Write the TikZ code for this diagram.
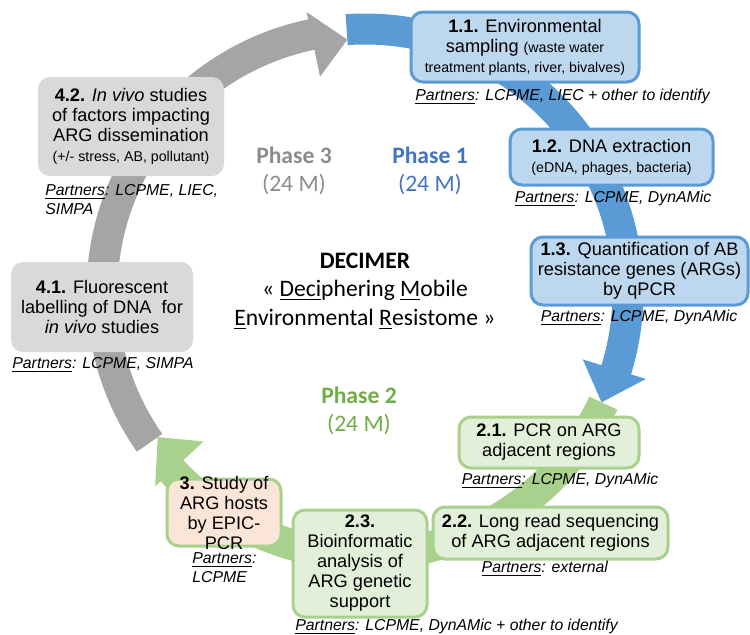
\documentclass[tikz,border=0pt]{standalone}
\usepackage{fontspec}
\setmainfont{Liberation Sans}
\newfontfamily\calibri{Carlito}
\usepackage{xcolor}
\definecolor{RingBlue}{HTML}{5B9BD5}
\definecolor{RingGray}{HTML}{A5A5A5}
\definecolor{RingGreen}{HTML}{A9D18E}
\definecolor{BlueFill}{HTML}{BDD7EE}
\definecolor{GrayFill}{HTML}{D9D9D9}
\definecolor{GreenFill}{HTML}{E2F0D9}
\definecolor{PeachFill}{HTML}{FBE5D6}
\definecolor{PhaseBlue}{HTML}{4472C4}
\definecolor{PhaseGray}{HTML}{8C8C8C}
\definecolor{PhaseGreen}{HTML}{70AD47}
\newcommand{\boxfont}{\fontsize{9.1}{10}\selectfont}
\newcommand{\subfont}{\fontsize{7.1}{8.5}\selectfont}
\newcommand{\partners}[1]{\textit{\underline{Partners}: #1}}
\tikzset{
  % Box styles
  taskbox/.style={rectangle, rounded corners=6pt, line width=1.5pt, font=\boxfont, align=center, inner sep=1pt},
  bluebox/.style={taskbox, draw=RingBlue, fill=BlueFill},
  greenbox/.style={taskbox, draw=RingGreen, fill=GreenFill},
  peachbox/.style={taskbox, draw=RingGreen, fill=PeachFill},
  graybox/.style={taskbox, draw=none, fill=GrayFill},
  % Label styles
  partnerlabel/.style={font=\fontsize{7.9}{9.5}\selectfont, inner sep=0pt, align=center},
  phaselabel/.style={font=\calibri\fontsize{11.8}{14}\selectfont, align=center, inner sep=0pt},
  titlelabel/.style={font=\calibri\fontsize{11.8}{14.3}\selectfont, align=center, inner sep=0pt}
}
\begin{document}
\begin{tikzpicture}[x=0.5pt, y=0.5pt]
  \useasboundingbox (0,0) rectangle (750,-634);

  % Ring of the three phases
  \begin{scope}[shift={(365,-292)}]
    \foreach \s/\e/\o/\col in {215/94/5/RingGray, 94/-25/1/RingBlue, -25/-145/5/RingGreen}{
      \pgfmathsetmacro\b{\e+7.8}
      \fill[\col] (\s:139.25pt) arc[start angle=\s, end angle=\b, radius=139.25pt]
        -- (\b:148pt-\o pt) -- (\e:131.5pt-\o pt) -- (\b:115pt-\o pt) -- (\b:123.75pt)
        arc[start angle=\b, end angle=\s, radius=123.75pt] -- cycle;
    }
  \end{scope}

  % Phase 1
  \node[bluebox, minimum width=114pt, minimum height=35pt] (s11) at (525,-47)
    {\textbf{1.1.} Environmental\\ sampling {\subfont (waste water}\\ {\subfont treatment plants, river, bivalves)}};
  \node[bluebox, minimum width=101.5pt, minimum height=28pt] (s12) at (611.5,-157)
    {\textbf{1.2.} DNA extraction\\ {\subfont (eDNA, phages, bacteria)}};
  \node[bluebox, minimum width=108.5pt, minimum height=34pt] (s13) at (639.5,-271)
    {\textbf{1.3.} Quantification of AB\\ resistance genes (ARGs)\\ by qPCR};

  % Phase 2
  \node[greenbox, minimum width=90pt, minimum height=25.5pt] (s21) at (549,-442.5)
    {\textbf{2.1.} PCR on ARG\\ adjacent regions};
  \node[greenbox, minimum width=117.5pt, minimum height=26pt] (s22) at (550.5,-533)
    {\textbf{2.2.} Long read sequencing\\ of ARG adjacent regions};
  \node[greenbox, minimum width=67pt, minimum height=53.5pt] (s23) at (360,-563.5)
    {\textbf{2.3.}\\ Bioinformatic\\ analysis of\\ ARG genetic\\ support};
  \node[peachbox, minimum width=57pt, minimum height=33.5pt, inner ysep=-3pt] (s3) at (224,-512.5)
    {\textbf{3.} Study of\\ ARG hosts\\ by EPIC-\\ PCR};

  % Phase 3
  \node[graybox, minimum width=91pt, minimum height=45pt] (s41) at (102,-307)
    {\textbf{4.1.} Fluorescent\\ labelling of DNA~ for\\ \textit{in vivo} studies};
  \node[graybox, minimum width=93pt, minimum height=49.5pt] (s42) at (131,-126.5)
    {\textbf{4.2.} \textit{In vivo} studies\\ of factors impacting\\ ARG dissemination\\ {\subfont (+/- stress, AB, pollutant)}};

  % Partners
  \node[partnerlabel] (p11) at (563,-97) {\partners{LCPME, LIEC + other to identify}};
  \node[partnerlabel] (p12) at (613,-199) {\partners{LCPME, DynAMic}};
  \node[partnerlabel] (p13) at (639,-318) {\partners{LCPME, DynAMic}};
  \node[partnerlabel] (p21) at (560,-481) {\partners{LCPME, DynAMic}};
  \node[partnerlabel] (p22) at (545,-569) {\partners{external}};
  \node[partnerlabel] (p23) at (457,-627) {\partners{LCPME, DynAMic + other to identify}};
  \node[partnerlabel, align=left, anchor=west] (p3) at (192,-568) {\textit{\underline{Partners}:}\\ \textit{LCPME}};
  \node[partnerlabel] (p41) at (103,-365) {\partners{LCPME, SIMPA}};
  \node[partnerlabel, align=left, anchor=west] (p42) at (45,-199.5) {\partners{LCPME, LIEC,}\\ \textit{SIMPA}};

  % Phase labels and title
  \node[phaselabel, text=PhaseBlue] (ph1) at (430,-171) {\textbf{Phase 1}\\ (24 M)};
  \node[phaselabel, text=PhaseGreen] (ph2) at (359,-411) {\textbf{Phase 2}\\ (24 M)};
  \node[phaselabel, text=PhaseGray] (ph3) at (294,-171) {\textbf{Phase 3}\\ (24 M)};
  \node[titlelabel] (title) at (365,-291)
    {\textbf{DECIMER}\\ « \underline{Deci}phering \underline{M}obile\\ \underline{E}nvironmental \underline{R}esistome »};
\end{tikzpicture}
\end{document}
